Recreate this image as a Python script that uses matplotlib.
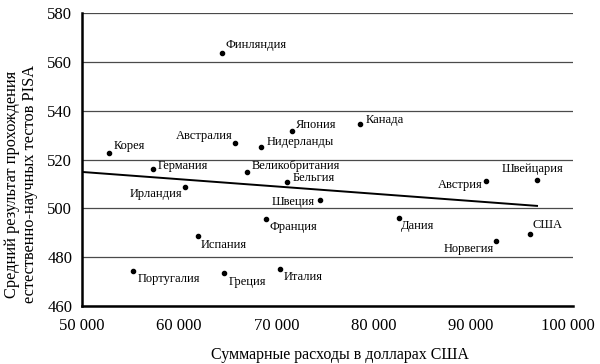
import matplotlib
matplotlib.use("Agg")
import matplotlib.pyplot as plt

plt.rcParams['font.family'] = ['Liberation Serif', 'DejaVu Serif']

countries = ["Финляндия", "Корея", "Австралия", "Нидерланды", "Япония", "Канада",
             "Германия", "Великобритания", "Бельгия", "Швейцария", "Австрия",
             "Ирландия", "Швеция", "Франция", "Испания", "Дания", "Норвегия",
             "США", "Португалия", "Греция", "Италия"]
spending = [64400, 52780, 65740, 68410, 71600, 78590,
            57300, 66970, 71080, 96800, 91550,
            60590, 74480, 68920, 61930, 82600, 92580,
            96080, 55250, 64600, 70360]
pisa = [563.6, 522.7, 526.8, 525.1, 531.7, 534.5,
        516.1, 514.9, 510.8, 511.6, 511.2,
        508.7, 503.4, 495.6, 488.7, 496.0, 486.6,
        489.5, 474.3, 473.5, 475.1]

trend_x = [50000, 96800]
trend_y = [514.9, 501.0]

x_ticks = [50000, 60000, 70000, 80000, 90000, 100000]
x_ticklabels = ["50 000", "60 000", "70 000", "80 000", "90 000", "100 000"]
y_ticks = [460, 480, 500, 520, 540, 560, 580]

# label placement (pixel offsets, horizontal alignment)
label_style = {
    "Финляндия": (3, 8, "left"), "Корея": (5, 7, "left"),
    "Австралия": (-2, 7, "right"), "Нидерланды": (6, 5, "left"),
    "Япония": (4, 6, "left"), "Канада": (6, 4, "left"),
    "Германия": (5, 3, "left"), "Великобритания": (5, 6, "left"),
    "Бельгия": (6, 4, "left"), "Швейцария": (-4, 11, "center"),
    "Австрия": (-3, -4, "right"), "Ирландия": (-3, -7, "right"),
    "Швеция": (-5, -2, "right"), "Франция": (4, -8, "left"),
    "Испания": (3, -9, "left"), "Дания": (2, -8, "left"),
    "Норвегия": (-2, -8, "right"), "США": (2, 9, "left"),
    "Португалия": (5, -8, "left"), "Греция": (5, -9, "left"),
    "Италия": (4, -8, "left"),
}

fig = plt.figure(figsize=(6, 3.64), dpi=100)
ax = fig.add_axes([82/600, 1-306/364, (573-82)/600, (306-13)/364])

ax.set_xlim(50000, 100500)
ax.set_ylim(460, 580)

ax.set_yticks(y_ticks)
ax.yaxis.grid(True, color='#4a4a4a', linewidth=0.9)
ax.set_axisbelow(True)
ax.set_xticks(x_ticks)
ax.set_xticklabels(x_ticklabels)
ax.tick_params(axis='both', length=0, labelsize=12)
ax.tick_params(axis='y', pad=7)
ax.tick_params(axis='x', pad=9)

for s in ['top', 'right']:
    ax.spines[s].set_visible(False)
for s in ['left', 'bottom']:
    ax.spines[s].set_linewidth(1.8)
    ax.spines[s].set_color('black')

ax.plot(trend_x, trend_y, color='black', linewidth=1.4, zorder=2)
ax.scatter(spending, pisa, s=9, color='black', zorder=3)

for name, xv, yv in zip(countries, spending, pisa):
    dx, dy, ha = label_style[name]
    ax.annotate(name, (xv, yv), xytext=(dx, dy), textcoords='offset pixels',
                ha=ha, va='center', fontsize=9)

fig.text(21/600, 1-184/364,
         "Средний результат прохождения\nестественно-научных тестов PISA",
         rotation=90, ha='center', va='center', fontsize=11.8, linespacing=1.15)
fig.text(340/600, 1-355/364, "Суммарные расходы в долларах США",
         ha='center', va='center', fontsize=11.5)

fig.savefig("out.png", dpi=100)
